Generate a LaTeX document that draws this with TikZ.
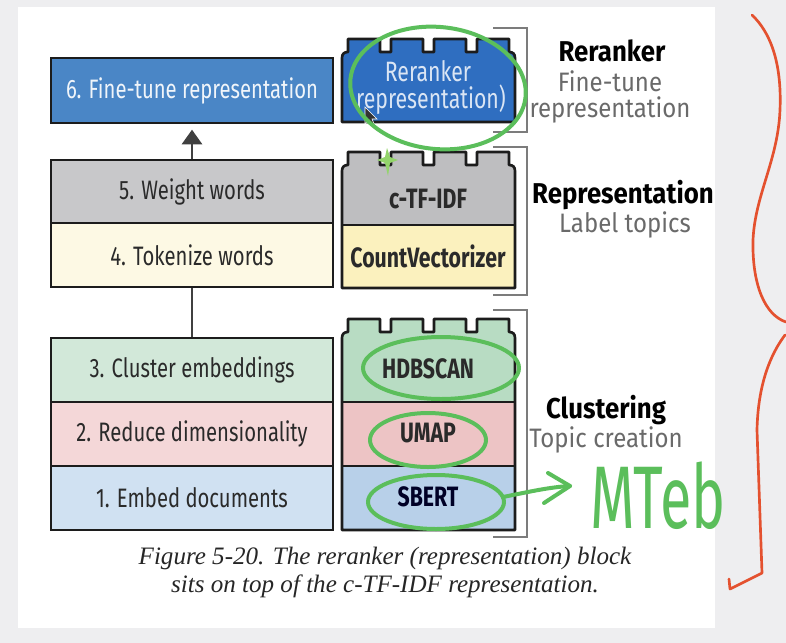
\documentclass[tikz,border=0pt]{standalone}
\usepackage{fontspec}
\usepackage{graphicx}
\setmainfont{Fira Sans}[FakeStretch=0.76]
\newfontfamily\sidefont{Fira Sans}[FakeStretch=0.9]
\newfontfamily\capfont{Liberation Serif}
\newfontfamily\handfont{Fira Sans}
\usetikzlibrary{arrows.meta}
\definecolor{bgray}{HTML}{EEEEF0}
\definecolor{boxline}{HTML}{1C1C1C}
\definecolor{txtdark}{HTML}{2A2A2A}
\definecolor{sixblue}{HTML}{4A86C6}
\definecolor{rrblue}{HTML}{2F6EC0}
\definecolor{lgray}{HTML}{C8C8CA}
\definecolor{rgray}{HTML}{BEBEC0}
\definecolor{lyellow}{HTML}{FDF9E4}
\definecolor{ryellow}{HTML}{FBF1BE}
\definecolor{lgreen}{HTML}{D2E8D9}
\definecolor{rgreen}{HTML}{B8DCC3}
\definecolor{lpink}{HTML}{F4D7D8}
\definecolor{rpink}{HTML}{EDC4C5}
\definecolor{lblue}{HTML}{D0E1F2}
\definecolor{rblue}{HTML}{B8D0E9}
\definecolor{brk}{HTML}{7C7C7C}
\definecolor{subgray}{HTML}{6A6A6A}
\definecolor{pen}{HTML}{5BBE5B}
\definecolor{penlight}{HTML}{93D46B}
\definecolor{redpen}{HTML}{E4512F}
\tikzset{
  lbox/.style={draw=boxline, line width=2pt, minimum width=211.5pt, inner sep=0pt,
    font=\fontsize{20}{22}\selectfont, text=txtdark},
  blocktxt/.style={inner sep=0pt, font=\bfseries\fontsize{21}{23}\selectfont, text=txtdark},
  rrtxt/.style={inner sep=0pt, font=\fontsize{21}{23}\selectfont, text={white!82!rrblue}},
  sidebold/.style={inner sep=0pt, font=\sidefont\bfseries\fontsize{21.5}{24}\selectfont, text=black},
  sidegray/.style={inner sep=0pt, font=\sidefont\fontsize{20}{22}\selectfont, text=subgray},
  captxt/.style={inner sep=0pt, font=\capfont\itshape\fontsize{18.8}{21}\selectfont, text=black!85},
  bracketline/.style={draw=brk, line width=1.5pt},
  blockline/.style={draw=boxline, line width=2pt, line join=round},
  penline/.style={draw=pen, line width=3pt, line cap=round, line join=round},
  redline/.style={draw=redpen, line width=2pt, line cap=round, line join=round},
}
\newcommand\legopath[2]{(342,#2) -- (342,#1+6) .. controls (342,#1+2) and (344,#1) .. (348,#1)
  -- (348,#1-13) -- (380,#1-13) -- (380,#1) -- (391,#1) -- (391,#1-13) -- (423,#1-13) -- (423,#1)
  -- (434,#1) -- (434,#1-13) -- (466,#1-13) -- (466,#1) -- (477,#1) -- (477,#1-13) -- (509,#1-13)
  -- (509,#1) .. controls (513,#1) and (515,#1+2) .. (515,#1+6) -- (515,#2) -- cycle}
\begin{document}
\begin{tikzpicture}[x=0.75pt,y=-0.75pt]
\useasboundingbox (0,0) rectangle (786,643);
\fill[bgray] (0,0) rectangle (786,643);
\fill[white] (18,7) rectangle (715,628);

% left column
\node[lbox, fill=sixblue, minimum height=48.75pt, text={white!92!sixblue}] (b6) at (192,90.5) {6. Fine-tune representation};
\node[lbox, fill=lgray, minimum height=47.25pt] (b5) at (192,191.5) {5. Weight words};
\node[lbox, fill=lyellow, minimum height=48pt] (b4) at (192,255) {4. Tokenize words};
\node[lbox, fill=lgreen, minimum height=48pt] (b3) at (192,370) {3. Cluster embeddings};
\node[lbox, fill=lpink, minimum height=48pt] (b2) at (192,434) {2. Reduce dimensionality};
\node[lbox, fill=lblue, minimum height=48pt] (b1) at (192,498) {1. Embed documents};
\draw[draw=black!75, line width=2.2pt, -{Triangle[width=15pt,length=11pt]}, shorten >=4pt] (b5.north) -- (b6.south);
\draw[draw=black!75, line width=2.2pt] (b4.south) -- (b3.north);

% reranker block
\fill[rrblue] \legopath{52}{122};
\draw[blockline] \legopath{52}{122};
\node[rrtxt] (rr1) at (428,71) {Reranker};
\node[rrtxt] (rr2) at (431,100) {representation)};

% representation block
\fill[rgray] \legopath{165}{288};
\fill[ryellow] (342,225) rectangle (515,288);
\draw[blockline] (342,225) -- (515,225);
\draw[blockline] \legopath{165}{288};
\node[blocktxt] (ctf) at (428,199) {c-TF-IDF};
\node[blocktxt] (cv) at (428,256) {CountVectorizer};

% clustering block
\fill[rgreen] \legopath{332}{530};
\fill[rpink] (342,402) rectangle (515,466);
\fill[rblue] (342,466) rectangle (515,530);
\draw[blockline] (342,402) -- (515,402);
\draw[blockline] (342,466) -- (515,466);
\draw[blockline] \legopath{332}{530};
\node[blocktxt] (hdb) at (428,369) {HDBSCAN};
\node[blocktxt] (umap) at (428,433) {UMAP};
\node[blocktxt, text={black!75!blue!60!black}] (sbert) at (428,497) {SBERT};

% brackets
\draw[bracketline] (493,28) -- (527,28) -- (527,132) -- (493,132);
\draw[bracketline] (493,147) -- (527,147) -- (527,295) -- (493,295);
\draw[bracketline] (493,310) -- (527,310) -- (527,537) -- (493,537);

% side labels
\node[sidebold] (lr1) at (612,51) {Reranker};
\node[sidegray] (lr2) at (610,81) {Fine-tune};
\node[sidegray] (lr3) at (610,110) {representation};
\node[sidebold] (lp1) at (623,195) {Representation};
\node[sidegray] (lp2) at (625,225) {Label topics};
\node[sidebold] (lc1) at (606,410) {Clustering};
\node[sidegray] (lc2) at (606,440) {Topic creation};

% caption
\node[captxt] (cap1) at (385,558) {Figure 5-20. The reranker (representation) block};
\node[captxt] (cap2) at (385,586) {sits on top of the c-TF-IDF representation.};

% cursor
\draw[fill=black!80, draw=white, line width=0.4pt] (365,107) -- (365,124) -- (369,120) -- (372,127) -- (375,126) -- (372,119) -- (377,119) -- cycle;

% green pen annotations
\draw[penline, rotate around={-6:(438,88)}] (438,88) ellipse [x radius=88, y radius=61];
\draw[penline] (441,368) ellipse [x radius=78, y radius=31];
\draw[penline] (428,440) ellipse [x radius=58, y radius=27];
\draw[penline] (436,502) ellipse [x radius=68, y radius=27];
\draw[penline] (503,497) .. controls (528,492) and (550,487) .. (570,486);
\draw[penline] (548,473) -- (570,486) -- (544,503);
\fill[penlight] (387,148) -- (390,157) -- (398,160) -- (390,163) -- (388,176) -- (385,163) -- (377,160) -- (385,157) -- cycle;
\node[inner sep=0pt, text=pen] (mteb) at (658,496) {\resizebox{102pt}{50pt}{\handfont MTeb}};

% red brace
\draw[redline] (752,15) .. controls (770,32) and (782,62) .. (780,110)
  .. controls (778,160) and (755,195) .. (753,240)
  .. controls (752,285) and (765,315) .. (786,322);
\draw[redline] (785,335) .. controls (770,355) and (758,385) .. (757,430)
  -- (762,573) -- (730,589) -- (729,579);
\end{tikzpicture}
\end{document}
